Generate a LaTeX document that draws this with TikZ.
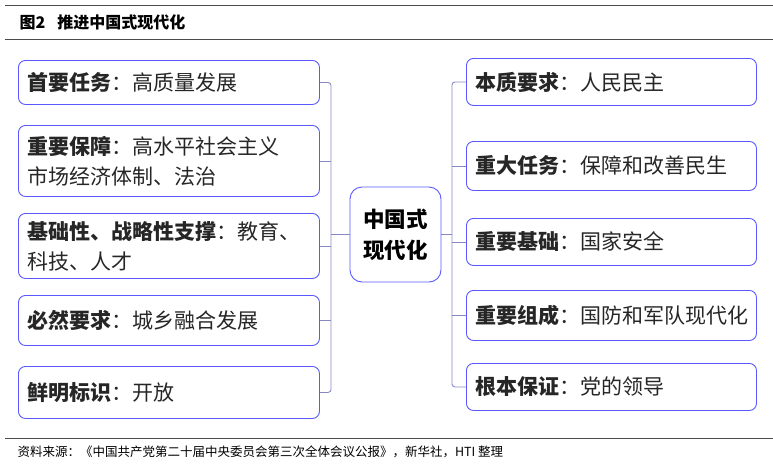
\documentclass[tikz,border=0pt]{standalone}
\usepackage{fontspec}
\setmainfont{Noto Sans CJK SC}
\begin{document}
\begin{tikzpicture}[x=1pt,y=-1pt,
  bx/.style={draw=blue!65!white,line width=0.9pt,rounded corners=7pt,align=left,anchor=north west,inner xsep=9pt,inner ysep=0pt,font=\fontsize{21}{30}\selectfont,text=black!85},
  lw/.style={text width=283pt},
  rw/.style={text width=272pt},
  cn/.style={draw=blue!35!gray!70,line width=0.9pt}]
\useasboundingbox (0,0) rectangle (773,466);
\draw[line width=1pt,black!70] (5,5)--(773,5);
\draw[line width=1pt,black!70] (5,39)--(773,39);
\node[anchor=west,font=\bfseries\fontsize{16}{18}\selectfont] (t) at (16,22) {图2\hspace{12pt}推进中国式现代化};
% left boxes
\node[bx,lw,minimum height=44pt] (l1) at (18,60) {\textbf{首要任务}：高质量发展};
\node[bx,lw,minimum height=71pt] (l2) at (18,125) {\textbf{重要保障}：高水平社会主义\\市场经济体制、法治};
\node[bx,lw,minimum height=65pt] (l3) at (18,213) {\textbf{基础性、战略性支撑}：教育、\\科技、人才};
\node[bx,lw,minimum height=50pt] (l4) at (18,295) {\textbf{必然要求}：城乡融合发展};
\node[bx,lw,minimum height=52pt] (l5) at (18,366) {\textbf{鲜明标识}：开放};
% center
\node[draw=blue!65!white,line width=0.9pt,rounded corners=12pt,minimum width=91pt,minimum height=95pt,align=center,font=\bfseries\fontsize{21.5}{31}\selectfont] (c) at (395.5,234.5) {中国式\\现代化};
% right boxes
\node[bx,rw,minimum height=47pt] (r1) at (466,58) {\textbf{本质要求}：人民民主};
\node[bx,rw,minimum height=49pt] (r2) at (466,141) {\textbf{重大任务}：保障和改善民生};
\node[bx,rw,minimum height=47pt] (r3) at (466,218) {\textbf{重要基础}：国家安全};
\node[bx,rw,minimum height=50pt] (r4) at (466,290) {\textbf{重要组成}：国防和军队现代化};
\node[bx,rw,minimum height=47pt] (r5) at (466,363) {\textbf{根本保证}：党的领导};
% connectors
\coordinate (lx) at (331,0);
\coordinate (rx) at (452,0);
\draw[cn,rounded corners=3pt] (l1.east) -| (lx |- c.west) |- (l5.east);
\foreach \n in {l2,l3,l4} \draw[cn] (\n.east) -- (lx |- \n.east);
\draw[cn] (c.west) -- (lx |- c.west);
\draw[cn,rounded corners=3pt] (r1.west) -| (rx |- c.east) |- (r5.west);
\foreach \n in {r2,r3,r4} \draw[cn] (\n.west) -- (rx |- \n.west);
\draw[cn] (c.east) -- (rx |- c.east);
\draw[line width=0.8pt,black!70] (5,438)--(773,438);
\node[anchor=west,font=\fontsize{12.5}{14}\selectfont] (f) at (14,452) {资料来源：《中国共产党第二十届中央委员会第三次全体会议公报》，新华社，HTI 整理};
\end{tikzpicture}
\end{document}
